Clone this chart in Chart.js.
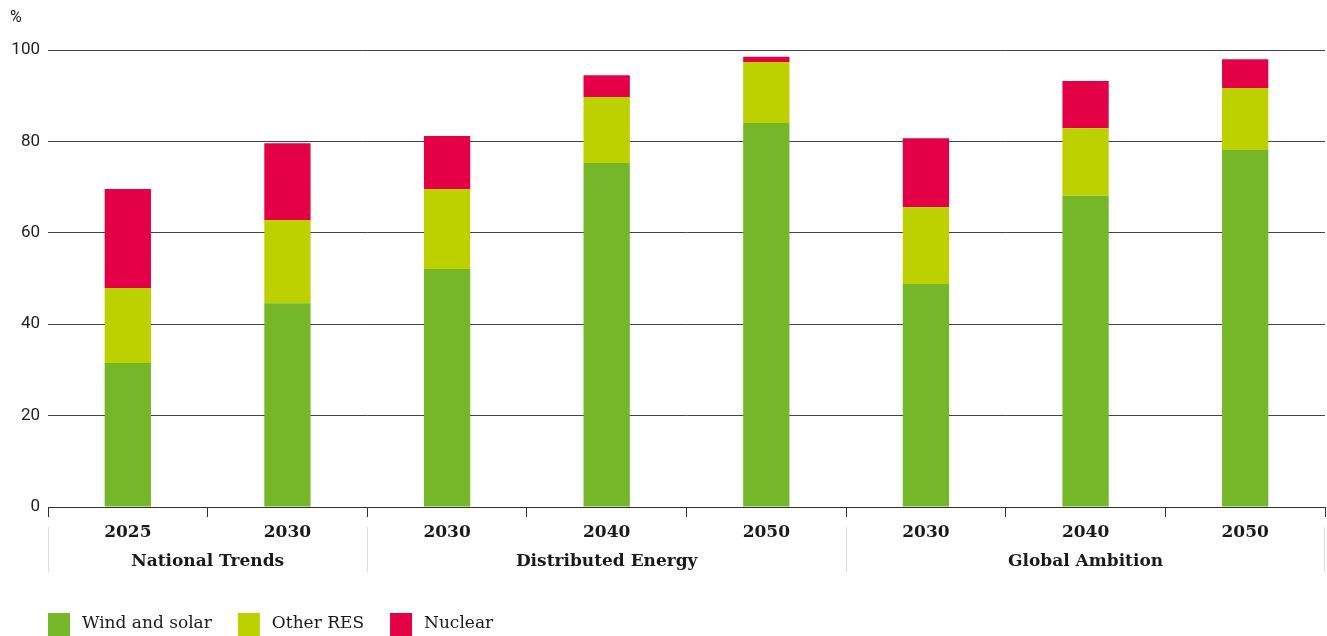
<!DOCTYPE html>
<html>
<head>
<meta charset="utf-8">
<script src="https://cdn.jsdelivr.net/npm/chart.js@4"></script>
<style>
  html, body { margin: 0; padding: 0; background: #fff; }
  #wrap { position: relative; width: 1327px; height: 636px; }
</style>
</head>
<body>
<div id="wrap"><canvas id="share-chart"></canvas></div>
<script>
var years = ['2025', '2030', '2030', '2040', '2050', '2030', '2040', '2050'];
var groupLabels = ['National Trends', 'Distributed Energy', 'Global Ambition'];
var groupSizes = [2, 3, 3];
var windSolar = [31.5, 44.6, 52.1, 75.3, 84.0, 48.8, 68.1, 78.1];
var otherRes = [16.4, 18.2, 17.5, 14.4, 13.4, 16.8, 14.8, 13.6];
var nuclear = [21.7, 16.8, 11.6, 4.8, 1.1, 15.1, 10.3, 6.3];
var yTicks = [0, 20, 40, 60, 80, 100];

var serif = '"DejaVu Serif", "Liberation Serif", serif';

// group labels under the years, light separators between groups
var groupPlugin = {
  id: 'groups',
  afterDraw: function (chart) {
    var ctx = chart.ctx;
    var x = chart.scales.x;
    var half = (x.getPixelForValue(1) - x.getPixelForValue(0)) / 2;
    var start = 0;
    ctx.save();
    ctx.strokeStyle = '#dddddd';
    ctx.lineWidth = 1;
    ctx.fillStyle = '#1a1a1a';
    ctx.font = 'bold 17px ' + serif;
    ctx.textAlign = 'center';
    ctx.textBaseline = 'middle';
    groupSizes.forEach(function (n, i) {
      var left = x.getPixelForValue(start) - half;
      var right = x.getPixelForValue(start + n - 1) + half;
      ctx.beginPath();
      ctx.moveTo(Math.round(left) + 0.5, 527);
      ctx.lineTo(Math.round(left) + 0.5, 572);
      if (i === groupSizes.length - 1) {
        ctx.moveTo(Math.round(right) - 0.5, 527);
        ctx.lineTo(Math.round(right) - 0.5, 572);
      }
      ctx.stroke();
      ctx.fillText(groupLabels[i], (left + right) / 2, 562);
      start += n;
    });

    // "%" unit
    ctx.font = '16px Roboto';
    ctx.textAlign = 'left';
    ctx.fillStyle = '#222';
    ctx.fillText('%', 10, 18);

    // legend
    var lx = 48;
    ctx.font = '17px ' + serif;
    chart.data.datasets.forEach(function (ds) {
      ctx.fillStyle = ds.backgroundColor;
      ctx.fillRect(lx, 613, 22, 23);
      ctx.fillStyle = '#1a1a1a';
      ctx.fillText(ds.label, lx + 34, 624);
      lx += 34 + ctx.measureText(ds.label).width + 26;
    });
    ctx.restore();
  }
};

var ctx = document.getElementById('share-chart');
var chart = new Chart(ctx, {
  type: 'bar',
  data: {
    labels: years,
    datasets: [{
      label: 'Wind and solar',
      data: windSolar,
      backgroundColor: '#76b72a'
    }, {
      label: 'Other RES',
      data: otherRes,
      backgroundColor: '#bdd000'
    }, {
      label: 'Nuclear',
      data: nuclear,
      backgroundColor: '#e40046'
    }]
  },
  options: {
    responsive: true,
    maintainAspectRatio: false,
    animation: false,
    layout: { padding: { top: 50, right: 2, left: 0, bottom: 0 } },
    datasets: {
      bar: { categoryPercentage: 1, barPercentage: 0.29 }
    },
    plugins: {
      legend: { display: false },
      title: { display: false },
      tooltip: { enabled: false }
    },
    scales: {
      x: {
        stacked: true,
        offset: true,
        border: { display: true, color: '#333', width: 1 },
        grid: {
          offset: true,
          drawOnChartArea: false,
          drawTicks: true,
          tickLength: 10,
          color: '#333'
        },
        ticks: {
          padding: 5,
          color: '#1a1a1a',
          font: { family: serif, size: 17, weight: 'bold' }
        },
        afterFit: function (scale) { scale.height = 129; }
      },
      y: {
        stacked: true,
        min: 0,
        max: 100,
        afterBuildTicks: function (scale) {
          scale.ticks = yTicks.map(function (v) { return { value: v }; });
        },
        border: { display: false },
        grid: { color: '#444', lineWidth: 1, drawTicks: false },
        ticks: {
          padding: 8,
          color: '#222',
          font: { family: 'Roboto', size: 17 }
        },
        afterFit: function (scale) { scale.width = 48; }
      }
    }
  },
  plugins: [groupPlugin]
});
</script>
</body>
</html>
